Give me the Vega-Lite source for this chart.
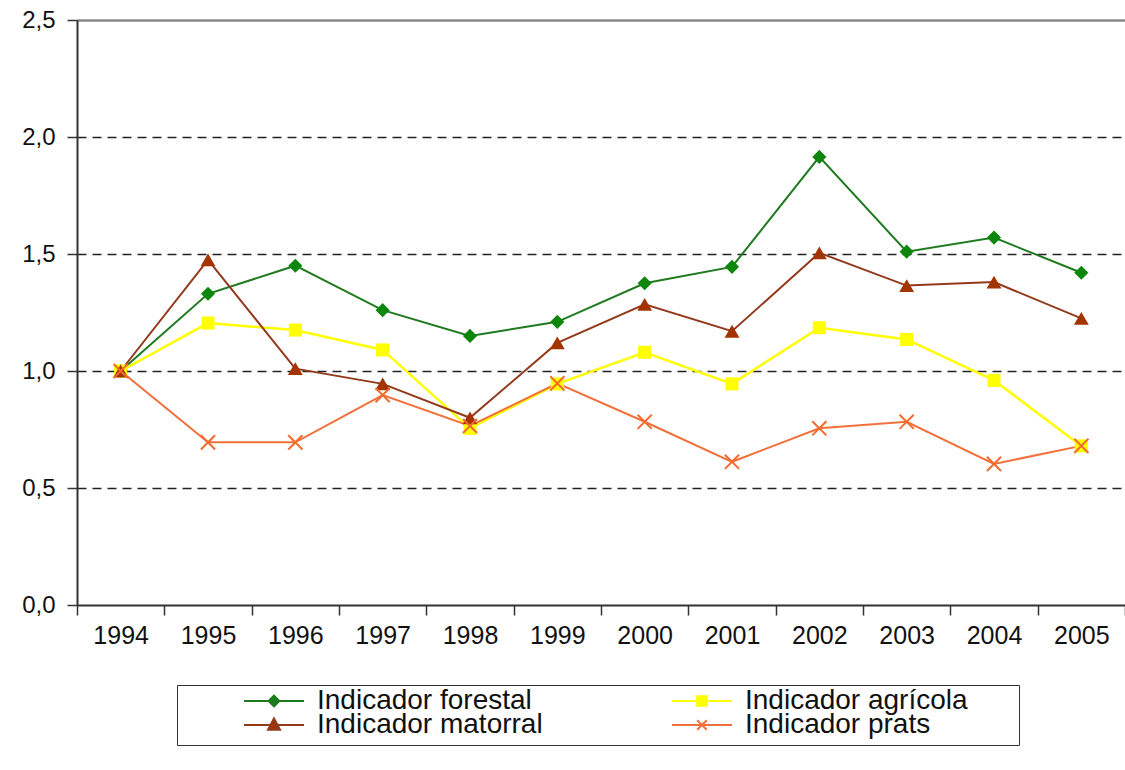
{
  "$schema": "https://vega.github.io/schema/vega-lite/v6.json",
  "width": 1048,
  "height": 585,
  "autosize": {"type": "none"},
  "padding": {"left": 77, "top": 20, "right": 0, "bottom": 165},
  "background": "white",
  "config": {
    "view": {"stroke": null},
    "font": "Liberation Sans",
    "legend": {
      "columns": 2,
      "symbolSize": 14400,
      "clipHeight": 20,
      "symbolStrokeWidth": 2,
      "labelFontSize": 28,
      "labelFont": "Liberation Sans",
      "labelColor": "#111111",
      "labelOffset": 12,
      "columnPadding": 68,
      "rowPadding": -16,
      "padding": 6,
      "strokeColor": "#333333",
      "labelLimit": 0
    }
  },
  "data": {
    "values": [
      {"any": "1994", "serie": "Indicador forestal", "valor": 1.0},
      {"any": "1995", "serie": "Indicador forestal", "valor": 1.33},
      {"any": "1996", "serie": "Indicador forestal", "valor": 1.45},
      {"any": "1997", "serie": "Indicador forestal", "valor": 1.26},
      {"any": "1998", "serie": "Indicador forestal", "valor": 1.15},
      {"any": "1999", "serie": "Indicador forestal", "valor": 1.21},
      {"any": "2000", "serie": "Indicador forestal", "valor": 1.375},
      {"any": "2001", "serie": "Indicador forestal", "valor": 1.445},
      {"any": "2002", "serie": "Indicador forestal", "valor": 1.915},
      {"any": "2003", "serie": "Indicador forestal", "valor": 1.51},
      {"any": "2004", "serie": "Indicador forestal", "valor": 1.57},
      {"any": "2005", "serie": "Indicador forestal", "valor": 1.42},
      {"any": "1994", "serie": "Indicador agrícola", "valor": 1.0},
      {"any": "1995", "serie": "Indicador agrícola", "valor": 1.205},
      {"any": "1996", "serie": "Indicador agrícola", "valor": 1.175},
      {"any": "1997", "serie": "Indicador agrícola", "valor": 1.09},
      {"any": "1998", "serie": "Indicador agrícola", "valor": 0.755},
      {"any": "1999", "serie": "Indicador agrícola", "valor": 0.945},
      {"any": "2000", "serie": "Indicador agrícola", "valor": 1.08},
      {"any": "2001", "serie": "Indicador agrícola", "valor": 0.945},
      {"any": "2002", "serie": "Indicador agrícola", "valor": 1.185},
      {"any": "2003", "serie": "Indicador agrícola", "valor": 1.135},
      {"any": "2004", "serie": "Indicador agrícola", "valor": 0.96},
      {"any": "2005", "serie": "Indicador agrícola", "valor": 0.68},
      {"any": "1994", "serie": "Indicador matorral", "valor": 1.0},
      {"any": "1995", "serie": "Indicador matorral", "valor": 1.475},
      {"any": "1996", "serie": "Indicador matorral", "valor": 1.01},
      {"any": "1997", "serie": "Indicador matorral", "valor": 0.945},
      {"any": "1998", "serie": "Indicador matorral", "valor": 0.8},
      {"any": "1999", "serie": "Indicador matorral", "valor": 1.12},
      {"any": "2000", "serie": "Indicador matorral", "valor": 1.285},
      {"any": "2001", "serie": "Indicador matorral", "valor": 1.17},
      {"any": "2002", "serie": "Indicador matorral", "valor": 1.505},
      {"any": "2003", "serie": "Indicador matorral", "valor": 1.365},
      {"any": "2004", "serie": "Indicador matorral", "valor": 1.38},
      {"any": "2005", "serie": "Indicador matorral", "valor": 1.225},
      {"any": "1994", "serie": "Indicador prats", "valor": 1.0},
      {"any": "1995", "serie": "Indicador prats", "valor": 0.695},
      {"any": "1996", "serie": "Indicador prats", "valor": 0.695},
      {"any": "1997", "serie": "Indicador prats", "valor": 0.897},
      {"any": "1998", "serie": "Indicador prats", "valor": 0.765},
      {"any": "1999", "serie": "Indicador prats", "valor": 0.947},
      {"any": "2000", "serie": "Indicador prats", "valor": 0.783},
      {"any": "2001", "serie": "Indicador prats", "valor": 0.612},
      {"any": "2002", "serie": "Indicador prats", "valor": 0.755},
      {"any": "2003", "serie": "Indicador prats", "valor": 0.783},
      {"any": "2004", "serie": "Indicador prats", "valor": 0.603},
      {"any": "2005", "serie": "Indicador prats", "valor": 0.68}
    ]
  },
  "encoding": {
    "x": {
      "field": "any",
      "type": "ordinal",
      "bandPosition": 0.5,
      "scale": {"type": "band", "paddingInner": 0, "paddingOuter": 0},
      "axis": {
        "title": null,
        "labelAngle": 0,
        "tickBand": "extent",
        "tickSize": 10,
        "tickColor": "#333333",
        "tickWidth": 1.5,
        "domainColor": "#333333",
        "domainWidth": 2,
        "labelFontSize": 25,
        "labelFont": "Liberation Sans",
        "labelColor": "#111111",
        "labelPadding": 8,
        "grid": false
      }
    },
    "y": {
      "field": "valor",
      "type": "quantitative",
      "scale": {"domain": [0, 2.5], "nice": false},
      "axis": {
        "title": null,
        "values": [0, 0.5, 1, 1.5, 2, 2.5],
        "labelExpr": "replace(format(datum.value, '.1f'), '.', ',')",
        "grid": true,
        "gridColor": {"condition": {"test": "datum.value === 2.5", "value": "#888888"}, "value": "#222222"},
        "gridDash": {"condition": {"test": "datum.value === 2.5", "value": []}, "value": [9, 6]},
        "gridWidth": {"condition": {"test": "datum.value === 2.5", "value": 2.5}, "value": 1.5},
        "gridOpacity": {"condition": {"test": "datum.value === 0", "value": 0}, "value": 1},
        "tickSize": 10,
        "tickColor": "#333333",
        "tickWidth": 1.5,
        "domainColor": "#333333",
        "domainWidth": 2,
        "labelFontSize": 24,
        "labelFont": "Liberation Sans",
        "labelColor": "#111111",
        "labelPadding": 12
      }
    }
  },
  "layer": [
    {
      "transform": [{"filter": "datum.serie === 'Indicador forestal'"}],
      "mark": {"type": "line", "strokeWidth": 2, "color": "#1f7a1f"},
      "encoding": {}
    },
    {
      "transform": [{"filter": "datum.serie === 'Indicador agrícola'"}],
      "mark": {"type": "line", "strokeWidth": 2.5, "color": "#ffff00"},
      "encoding": {}
    },
    {
      "transform": [{"filter": "datum.serie === 'Indicador matorral'"}],
      "mark": {"type": "line", "strokeWidth": 2, "color": "#93391c"},
      "encoding": {}
    },
    {
      "transform": [{"filter": "datum.serie === 'Indicador prats'"}],
      "mark": {"type": "line", "strokeWidth": 2, "color": "#f2703a"},
      "encoding": {}
    },
    {
      "transform": [{"filter": "datum.serie === 'Indicador forestal'"}],
      "mark": {"type": "point", "shape": "diamond", "filled": true, "size": 200, "color": "#0c870c", "opacity": 1}
    },
    {
      "transform": [{"filter": "datum.serie === 'Indicador agrícola'"}],
      "mark": {"type": "point", "shape": "square", "filled": true, "size": 170, "color": "#ffff00", "opacity": 1}
    },
    {
      "transform": [{"filter": "datum.serie === 'Indicador matorral'"}],
      "mark": {"type": "point", "shape": "triangle-up", "filled": true, "size": 220, "color": "#a33300", "opacity": 1}
    },
    {
      "transform": [{"filter": "datum.serie === 'Indicador prats'"}],
      "mark": {"type": "point", "shape": "M-1,-1L1,1M-1,1L1,-1", "filled": false, "size": 200, "color": "#f26a2e", "strokeWidth": 2, "opacity": 1}
    },
    {
      "mark": {"type": "point", "filled": true, "opacity": 0},
      "encoding": {
        "fill": {
          "field": "serie",
          "type": "nominal",
          "scale": {
            "domain": ["Indicador forestal", "Indicador matorral", "Indicador agrícola", "Indicador prats"],
            "range": ["#168016", "#a33300", "#ffff00", "#f2703a"]
          },
          "legend": {
            "title": "\u00a0",
            "titleOrient": "right",
            "titlePadding": 45,
            "titleFontSize": 10,
            "orient": "none",
            "legendX": 100,
            "legendY": 665,
            "columns": 2,
            "symbolOpacity": 1
          }
        },
        "stroke": {
          "field": "serie",
          "type": "nominal",
          "scale": {
            "domain": ["Indicador forestal", "Indicador matorral", "Indicador agrícola", "Indicador prats"],
            "range": ["#1f7a1f", "#93391c", "#ffff00", "#f2703a"]
          },
          "legend": {
            "title": "\u00a0",
            "titleOrient": "right",
            "titlePadding": 45,
            "titleFontSize": 10,
            "orient": "none",
            "legendX": 100,
            "legendY": 665,
            "columns": 2,
            "symbolOpacity": 1
          }
        },
        "shape": {
          "field": "serie",
          "type": "nominal",
          "scale": {
            "domain": ["Indicador forestal", "Indicador matorral", "Indicador agrícola", "Indicador prats"],
            "range": [
              "M0,0H1M0.5,-0.09L0.59,0L0.5,0.09L0.41,0Z",
              "M0,0H1M0.5,-0.11L0.6,0.08H0.4Z",
              "M0,0H1M0.42,-0.08H0.58V0.08H0.42Z",
              "M0,0H1M0.42,-0.08L0.58,0.08M0.42,0.08L0.58,-0.08"
            ]
          },
          "legend": {
            "title": "\u00a0",
            "titleOrient": "right",
            "titlePadding": 45,
            "titleFontSize": 10,
            "orient": "none",
            "legendX": 100,
            "legendY": 665,
            "columns": 2,
            "symbolOpacity": 1
          }
        }
      }
    }
  ]
}
